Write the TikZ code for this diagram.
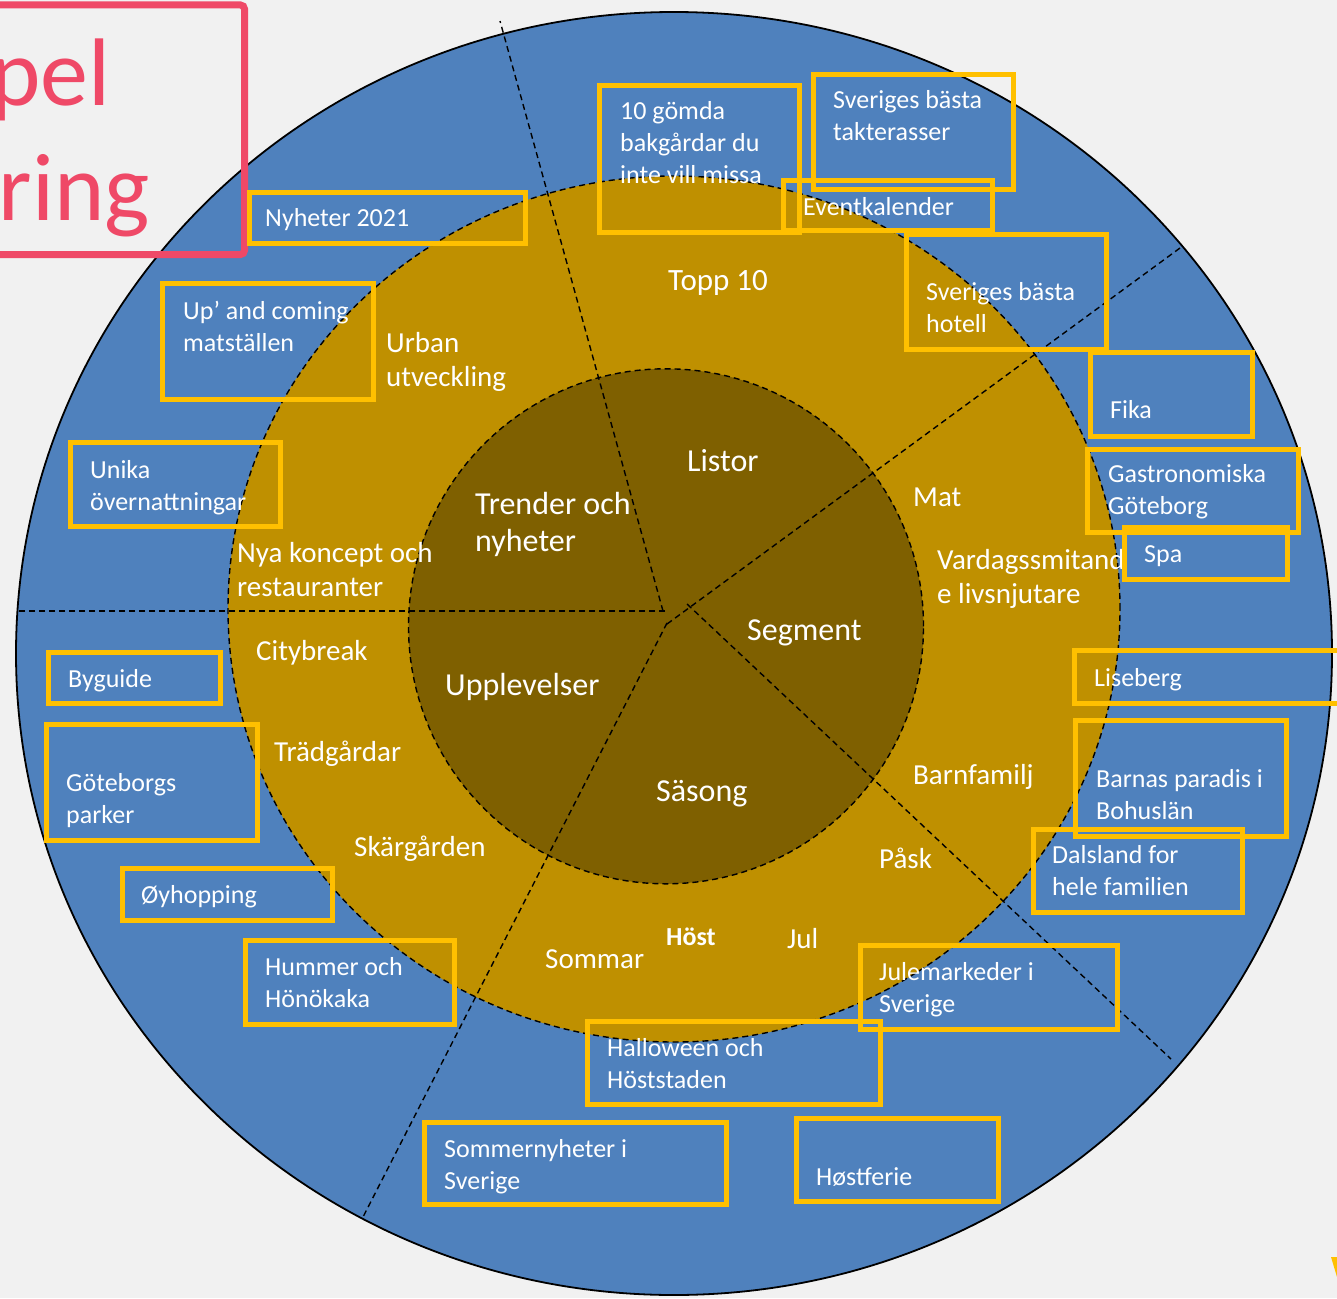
\documentclass[tikz,border=0pt]{standalone}
\usepackage{fontspec}
\setmainfont{Carlito}
\definecolor{bgc}{RGB}{241,241,241}
\definecolor{bluec}{RGB}{79,129,189}
\definecolor{goldc}{RGB}{191,144,0}
\definecolor{darkc}{RGB}{127,96,0}
\definecolor{boxc}{RGB}{255,192,0}
\definecolor{pinkc}{RGB}{239,73,103}
\newcommand\twol[2]{\vtop{\hbox{#1}\hbox{#2}}}
\newcommand\threel[3]{\vtop{\hbox{#1}\hbox{#2}\hbox{#3}}}
\tikzset{
  bx/.style={draw=boxc, line width=5pt},
  lbl/.style={text=white, inner sep=0pt, anchor=base west},
  boxtxt/.style={lbl, font=\fontsize{26}{32}\selectfont},
  ringtxt/.style={lbl, font=\fontsize{29}{34}\selectfont},
  coretxt/.style={lbl, font=\fontsize{32}{37}\selectfont},
  dline/.style={draw=black, line width=1.4pt, dash pattern=on 6pt off 4pt},
  pinkt/.style={text=pinkc, inner sep=0pt, anchor=base east, font=\fontsize{96}{115}\selectfont},
}
\begin{document}
\begin{tikzpicture}[x=1pt,y=-1pt]
\useasboundingbox (0,0) rectangle (1337,1298);
\fill[bgc] (0,0) rectangle (1337,1298);
% rings
\filldraw[fill=bluec, draw=black, line width=1.8pt] (674,653.5) ellipse [x radius=658pt, y radius=641.5pt];
\fill[goldc] (674,609) ellipse [x radius=446pt, y radius=433pt];
\draw[dline] (674,609) ellipse [x radius=446pt, y radius=433pt];
\fill[darkc] (666,626.3) circle [radius=257.5pt];
\draw[dline] (666,626.3) circle [radius=257.5pt];
% radial dashed lines
\coordinate (c1) at (663,611); \coordinate (e1) at (500,21);
\coordinate (c2) at (665,611); \coordinate (e2) at (16,611);
\coordinate (c3) at (667,623); \coordinate (e3) at (363,1217);
\coordinate (c4) at (667,624); \coordinate (e4) at (1180,248);
\coordinate (c5) at (687,604); \coordinate (e5) at (1171,1059);
\draw[dline] (c1) -- (e1);
\draw[dline] (c2) -- (e2);
\draw[dline] (c3) -- (e3);
\draw[dline] (c4) -- (e4);
\draw[dline] (c5) -- (e5);
% pink title box
\draw[pinkc, line width=7pt, rounded corners=4pt] (-30,5) rectangle (244.5,254.5);
\node[pinkt] (p1) at (111,105) {pel};
\node[pinkt] (p2) at (150,220) {ring};
% inner labels
\node[coretxt] (listor) at (687,471) {Listor};
\node[coretxt] (trender) at (475,514) {\twol{Trender och}{nyheter}};
\node[coretxt] (segment) at (747,640.5) {Segment};
\node[coretxt] (upplev) at (445,695) {Upplevelser};
\node[coretxt] (sasong) at (656,801) {Säsong};
% ring labels
\node[lbl, font=\fontsize{31}{36}\selectfont] (topp) at (668,290) {Topp 10};
\node[ringtxt] (urban) at (386,352.7) {\twol{Urban}{utveckling}};
\node[ringtxt] (nya) at (237,562) {\twol{Nya koncept och}{restauranter}};
\node[ringtxt] (city) at (256,660) {Citybreak};
\node[ringtxt] (trad) at (274,761.5) {Trädgårdar};
\node[ringtxt] (skar) at (354,856.5) {Skärgården};
\node[ringtxt] (sommar) at (545,968) {Sommar};
\node[lbl, font=\fontsize{26}{32}\selectfont\bfseries] (host) at (666,945) {Höst};
\node[ringtxt] (jul) at (787,948) {Jul};
\node[ringtxt] (pask) at (879,868) {Påsk};
\node[ringtxt] (barnf) at (913,784) {Barnfamilj};
\node[ringtxt] (mat) at (913,506) {Mat};
\node[ringtxt] (vardag) at (937,569) {\twol{Vardagssmitand}{e livsnjutare}};
% boxes
\draw[bx] (249.5,192.5) rectangle (525.5,243);
\draw[bx] (599.5,85) rectangle (799.5,232.5);
\draw[bx] (813,74) rectangle (1013,189);
\draw[bx] (783,180.5) rectangle (992.5,230.5);
\draw[bx] (906,234) rectangle (1106,349);
\draw[bx] (162.5,283.5) rectangle (373.5,399);
\draw[bx] (70,442.5) rectangle (280.5,526.5);
\draw[bx] (1090,352.5) rectangle (1252.5,436.5);
\draw[bx] (1087.5,449) rectangle (1298.5,532.5);
\draw[bx] (1124.5,527.5) rectangle (1287.5,579.5);
\draw[bx] (1074.5,650) rectangle (1360,703);
\draw[bx] (1075.5,720.5) rectangle (1286.5,836);
\draw[bx] (1033,829) rectangle (1242.5,912.5);
\draw[bx] (48.5,652.5) rectangle (220.5,703.5);
\draw[bx] (46.5,724.5) rectangle (257.5,840.5);
\draw[bx] (122,868.5) rectangle (332,920);
\draw[bx] (245,940.5) rectangle (454.5,1024.5);
\draw[bx] (860.5,945.5) rectangle (1117.5,1029.5);
\draw[bx] (587.5,1021.5) rectangle (880.5,1104.5);
\draw[bx] (424.5,1122.5) rectangle (726.5,1204.5);
\draw[bx] (796.5,1118.5) rectangle (998.5,1201.5);
% box texts
\node[boxtxt] (t1) at (265,226) {Nyheter 2021};
\node[boxtxt] (t2) at (620,119.5) {\threel{10 gömda}{bakgårdar du}{inte vill missa}};
\node[boxtxt] (t3) at (833,108) {\twol{Sveriges bästa}{takterasser}};
\node[boxtxt] (t4) at (803,215) {Eventkalender};
\node[boxtxt] (t5) at (926,300) {\twol{Sveriges bästa}{hotell}};
\node[boxtxt] (t6) at (183,319.5) {\twol{Up’ and coming}{matställen}};
\node[boxtxt] (t7) at (90,478) {\twol{Unika}{övernattningar}};
\node[boxtxt] (t8) at (1110,418.5) {Fika};
\node[boxtxt] (t9) at (1108,482.5) {\twol{Gastronomiska}{Göteborg}};
\node[boxtxt] (t10) at (1144,562) {Spa};
\node[boxtxt] (t11) at (1094,686) {Liseberg};
\node[boxtxt] (t12) at (1096,787) {\twol{Barnas paradis i}{Bohuslän}};
\node[boxtxt] (t13) at (1052,863.5) {\twol{Dalsland for}{hele familien}};
\node[boxtxt] (t14) at (68,687) {Byguide};
\node[boxtxt] (t15) at (66,791) {\twol{Göteborgs}{parker}};
\node[boxtxt] (t16) at (141,903) {Øyhopping};
\node[boxtxt] (t17) at (265,975) {\twol{Hummer och}{Hönökaka}};
\node[boxtxt] (t18) at (879,980) {\twol{Julemarkeder i}{Sverige}};
\node[boxtxt] (t19) at (607,1056) {\twol{Halloween och}{Höststaden}};
\node[boxtxt] (t20) at (444,1157) {\twol{Sommernyheter i}{Sverige}};
\node[boxtxt] (t21) at (816,1185) {Høstferie};
% corner sliver
\fill[boxc] (1331,1257) -- (1337,1257) -- (1337,1277) -- cycle;
\end{tikzpicture}
\end{document}
